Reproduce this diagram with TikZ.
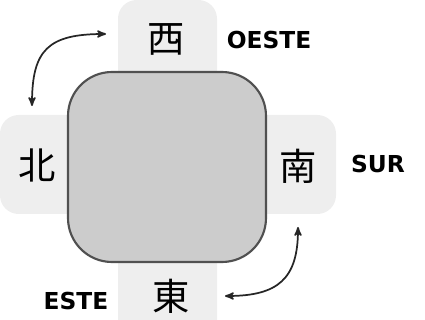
\documentclass[tikz,border=0pt]{standalone}
\usepackage{fontspec}
\setsansfont{DejaVu Sans}
\newfontfamily\cjk{Noto Sans CJK JP}
\usepackage{tikz}
\usetikzlibrary{arrows,positioning}
\definecolor{tabgray}{HTML}{EEEEEE}
\definecolor{boxgray}{HTML}{CCCCCC}
\definecolor{edgegray}{HTML}{505050}
\tikzset{
	tab/.style={fill=tabgray,rounded corners=14},
	glyph/.style={inner sep=0pt,font=\cjk\fontsize{28}{30}\selectfont},
	dirlabel/.style={inner sep=0pt,font=\sffamily\bfseries\fontsize{17.5}{19}\selectfont},
	swap/.style={<->,>=stealth',line width=1.3pt,black!85}
}

\begin{document}
\begin{tikzpicture}[x=0.75pt,y=-0.75pt]
	\useasboundingbox (0,0) rectangle (425,320);
	%
	% tabs behind the square
	\fill[tab] (118,0) rectangle (217,120);
	\fill[tab] (0,115) rectangle (120,214);
	\fill[tab] (220,115) rectangle (336,214);
	\fill[tab] (118,220) rectangle (217,340);
	
	% square
	\draw[fill=boxgray,draw=edgegray,line width=1.6pt,rounded corners=33] (68,72) rectangle (266,262);
	
	% characters
	\node[glyph] (west)  at (166,39)  {西};
	\node[glyph] (north) at (37,165)  {北};
	\node[glyph] (south) at (298,166) {南};
	\node[glyph] (east)  at (171,296) {東};
	%
	\node[dirlabel] (oeste) at (269,40)  {OESTE};
	\node[dirlabel] (sur)   at (378,164) {SUR};
	\node[dirlabel] (este)  at (76,301)  {ESTE};
	
	% arrows
	\coordinate (wtip) at (106,34);
	\coordinate (ntip) at (32,106);
	\coordinate (stip) at (298,227);
	\coordinate (etip) at (225,296);
	\draw[swap] (wtip) .. controls (48,34) and (32,50) .. (ntip);
	\draw[swap] (stip) .. controls (298,279) and (278,296) .. (etip);
\end{tikzpicture}
\end{document}
